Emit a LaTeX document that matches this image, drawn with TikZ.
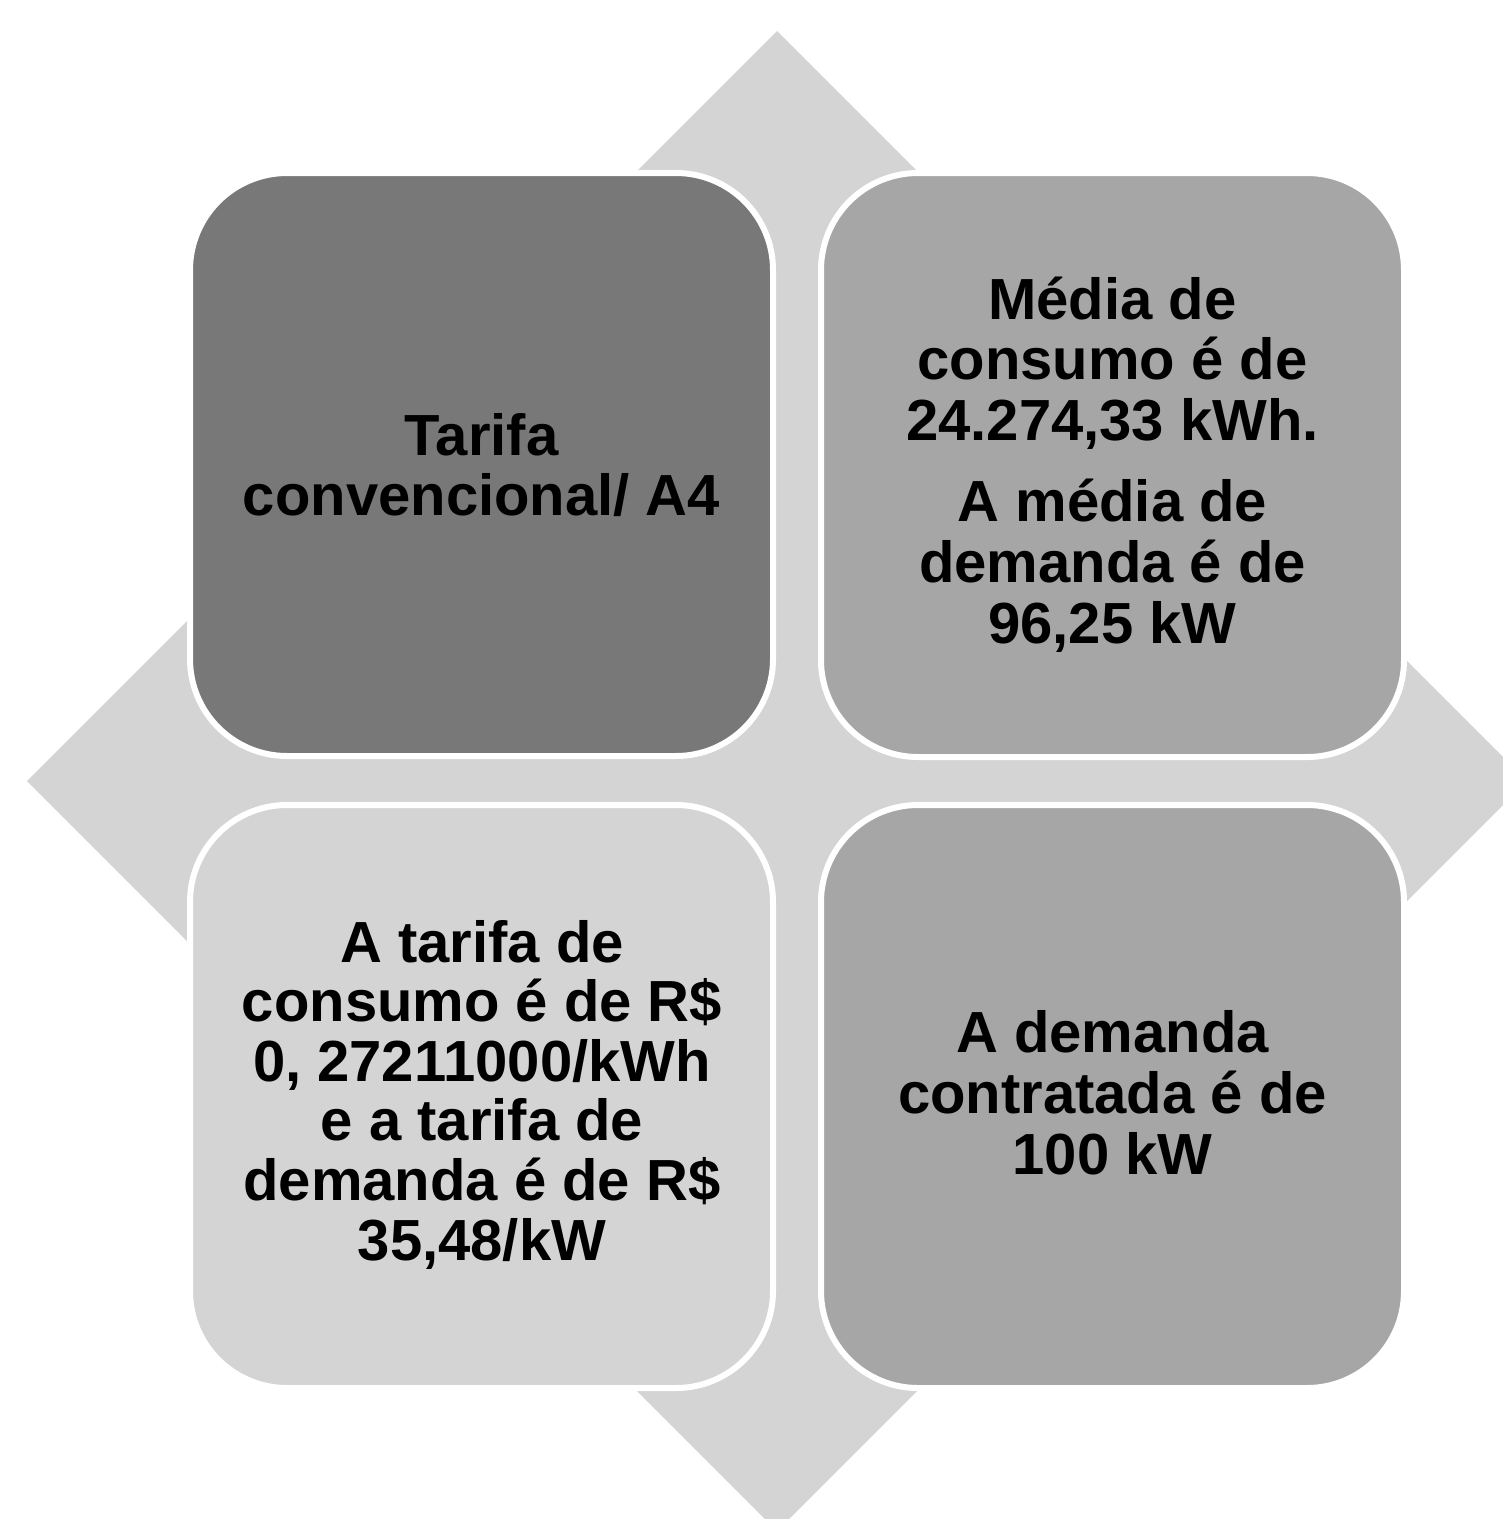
\documentclass[tikz,border=0pt]{standalone}
\usepackage{fontspec}
\setmainfont{Liberation Sans}
\definecolor{bgdiamond}{HTML}{D4D4D4}
\definecolor{boxdark}{HTML}{787878}
\definecolor{boxmid}{HTML}{A6A6A6}
\definecolor{boxlight}{HTML}{D4D4D4}
\tikzset{
  card/.style={draw=white, line width=6pt, rounded corners=97pt},
  cardtext/.style={anchor=base, inner sep=0pt, text=black},
}
\newcommand{\cardfont}{\fontsize{58}{59.6}\selectfont\bfseries}
\newcommand{\cardfontwide}{\fontsize{58}{60.8}\selectfont\bfseries}
\begin{document}
\begin{tikzpicture}[x=1pt,y=-1pt]
\useasboundingbox (0,0) rectangle (1503,1519);
\fill[white] (0,0) rectangle (1503,1519);
\begin{scope}
\clip (0,0) rectangle (1503,1519);
\fill[bgdiamond] (777,31) -- (1527,781) -- (777,1531) -- (27,781) -- cycle;
\end{scope}
% cards
\path[card, fill=boxdark]  (190,173) rectangle (773,756);
\path[card, fill=boxmid]   (821,173) rectangle (1404,757);
\path[card, fill=boxlight] (190,805) rectangle (773,1388);
\path[card, fill=boxmid]   (821,805) rectangle (1404,1388);
% texts
\node[cardtext] (tl) at (481.5,515) {\parbox[b]{560pt}{\centering\cardfont Tarifa\\convencional/ A4}};
\node[cardtext] (tr) at (1112.5,643) {\parbox[b]{560pt}{\centering\cardfontwide Média de\\consumo é de\\24.274,33 kWh.\\[20pt]A média de\\demanda é de\\96,25 kW}};
\node[cardtext] (bl) at (482,1260) {\parbox[b]{560pt}{\centering\cardfont A tarifa de\\consumo é de R\$\\0, 27211000/kWh\\e a tarifa de\\demanda é de R\$\\35,48/kW}};
\node[cardtext] (br) at (1112.5,1174) {\parbox[b]{560pt}{\centering\cardfontwide A demanda\\contratada é de\\100 kW}};
\end{tikzpicture}
\end{document}
